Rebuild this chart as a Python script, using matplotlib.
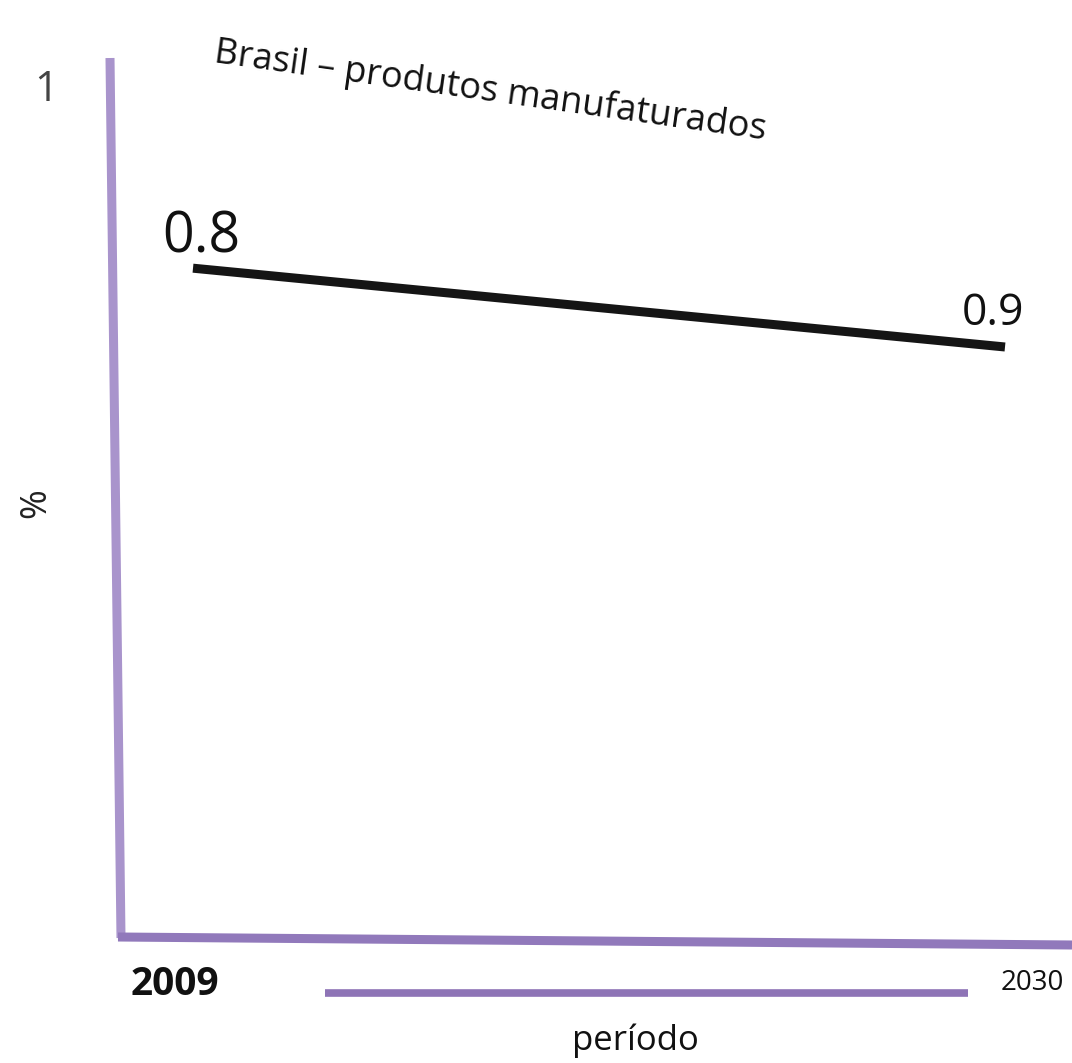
import matplotlib
matplotlib.use("Agg")
import matplotlib.pyplot as plt
from matplotlib.lines import Line2D

# ---- data ----
years = [2009, 2030]
line_values = [0.785, 0.6925]          # drawn position of the line (fraction of axis)
value_labels = ["0.8", "0.9"]          # labels written on the chart
tick_labels = ["2009", "2030"]
title = "Brasil – produtos manufaturados"
y_label = "%"
x_label = "período"
y_top_label = "1"

W, H = 1072, 1063
fig = plt.figure(figsize=(W / 100, H / 100), dpi=100)
fig.patch.set_facecolor("white")

FONT = "Open Sans"


def fx(x):
    return x / W


def fy(y):
    return 1 - y / H


# axes: 2009 -> px 193, 2030 -> px 1005 ; y 0 -> px 937, y 1 -> px 85
ax = fig.add_axes([fx(193), fy(937), fx(1005) - fx(193), fy(85) - fy(937)])
ax.set_xlim(years[0], years[-1])
ax.set_ylim(0, 1)
ax.axis("off")

# hand-drawn style axes lines (decorations)
fig.add_artist(Line2D([fx(110), fx(121)], [fy(58), fy(938)], color="#a994cc", lw=6.5,
                      solid_capstyle="butt"))
fig.add_artist(Line2D([fx(118), fx(1072)], [fy(937), fy(945)], color="#9179bb", lw=6.5,
                      solid_capstyle="butt"))
fig.add_artist(Line2D([fx(325), fx(968)], [fy(993), fy(993)], color="#8e74b6", lw=5.5,
                      solid_capstyle="butt"))

# data line
ax.plot(years, line_values, color="#151515", lw=6.5, solid_capstyle="butt", clip_on=False)

# value labels
ax.annotate(value_labels[0], xy=(years[0], line_values[0]), xytext=(-31, 16),
            textcoords="offset pixels", ha="left", va="baseline",
            fontsize=40, family=FONT, color="#111111")
ax.annotate(value_labels[1], xy=(years[1], line_values[1]), xytext=(-12, 22),
            textcoords="offset pixels", ha="center", va="baseline",
            fontsize=32, family=FONT, color="#111111")

# tick labels
ax.annotate(tick_labels[0], xy=(years[0], 0), xytext=(-18, -58),
            textcoords="offset pixels", ha="center", va="baseline",
            fontsize=28, family=FONT, fontweight="bold", color="#111111")
ax.annotate(tick_labels[1], xy=(years[1], 0), xytext=(27, -53),
            textcoords="offset pixels", ha="center", va="baseline",
            fontsize=20, family=FONT, color="#111111")

# other texts
fig.text(fx(635), fy(1050), x_label, ha="center", va="baseline",
         fontsize=25, family=FONT, color="#111111")
fig.text(fx(36), fy(503), y_label, ha="center", va="center", rotation=90,
         fontsize=26, family=FONT, color="#222222")
fig.text(fx(46), fy(101), y_top_label, ha="center", va="baseline",
         fontsize=30, family=FONT, color="#444444")
fig.text(fx(213), fy(62), title, ha="left", va="baseline", rotation=-8,
         rotation_mode="anchor", fontsize=26, family=FONT, color="#111111")

fig.savefig("out.png", dpi=100, facecolor="white")
